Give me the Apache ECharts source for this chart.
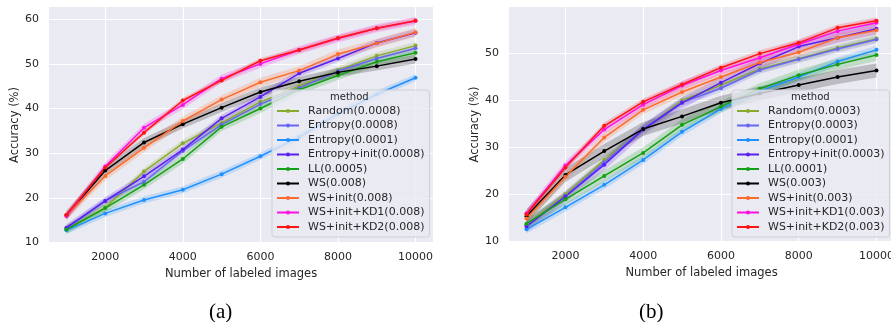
<!DOCTYPE html>
<html>
<head>
<meta charset="utf-8">
<script src="https://cdn.jsdelivr.net/npm/echarts@6/dist/echarts.min.js"></script>
<style>html,body{margin:0;padding:0;background:#fff;}#c{width:891px;height:322px;}</style>
</head>
<body>
<div id="c"></div>
<script>
// ---- data ----
const xValues = [1000, 2000, 3000, 4000, 5000, 6000, 7000, 8000, 9000, 10000];
const xTicks = [2000, 4000, 6000, 8000, 10000];
const yTicksA = [10, 20, 30, 40, 50, 60];
const yTicksB = [10, 20, 30, 40, 50];

const methodsA = ['Random(0.0008)', 'Entropy(0.0008)', 'Entropy(0.0001)', 'Entropy+init(0.0008)', 'LL(0.0005)', 'WS(0.008)', 'WS+init(0.008)', 'WS+init+KD1(0.008)', 'WS+init+KD2(0.008)'];
const methodsB = ['Random(0.0003)', 'Entropy(0.0003)', 'Entropy(0.0001)', 'Entropy+init(0.0003)', 'LL(0.0001)', 'WS(0.003)', 'WS+init(0.003)', 'WS+init+KD1(0.003)', 'WS+init+KD2(0.003)'];
const colors = ['#8aaa2e', '#6767f0', '#1e90ff', '#5a1ef0', '#14a014', '#000000', '#ff6a2a', '#ff10e0', '#ff1414'];

// chart (a)
const randomA      = [13.0, 17.8, 25.9, 32.2, 36.8, 41.5, 45.0, 48.6, 51.8, 54.1];
const entropyA     = [13.1, 19.3, 23.6, 30.5, 36.4, 41.0, 44.6, 48.4, 51.2, 53.5];
const entropyLowA  = [12.7, 16.5, 19.5, 21.8, 25.3, 29.3, 33.6, 38.8, 43.2, 46.9];
const entropyInitA = [13.3, 19.3, 24.8, 30.8, 37.8, 42.6, 47.9, 51.2, 54.7, 57.0];
const llA          = [12.9, 17.7, 22.9, 28.7, 35.9, 40.0, 44.2, 47.4, 50.5, 52.5];
const wsA          = [16.1, 26.1, 32.4, 36.5, 40.2, 43.7, 46.1, 48.1, 49.5, 51.1];
const wsInitA      = [16.0, 24.9, 31.2, 37.2, 42.0, 45.9, 48.5, 52.2, 54.6, 57.1];
const kd1A         = [15.9, 27.0, 35.7, 40.8, 46.7, 50.0, 53.1, 55.7, 58.0, 59.6];
const kd2A         = [16.2, 26.8, 34.6, 41.8, 46.3, 50.7, 53.1, 55.8, 58.0, 59.7];
const spreadA      = [0.8, 0.7, 0.8, 0.8, 1.0, 1.0, 1.0, 0.9, 0.6];

// chart (b)
const randomB      = [13.5, 20.0, 27.3, 33.9, 40.0, 43.3, 46.7, 48.9, 51.2, 53.2];
const entropyB     = [13.3, 19.6, 26.8, 34.0, 39.6, 42.6, 46.5, 48.8, 51.0, 53.0];
const entropyLowB  = [12.5, 17.2, 22.0, 27.3, 33.3, 38.2, 42.0, 45.0, 48.3, 50.8];
const entropyInitB = [13.1, 19.5, 26.3, 33.8, 39.5, 43.8, 47.9, 51.5, 53.4, 55.3];
const llB          = [13.7, 18.9, 23.9, 28.8, 34.8, 38.7, 42.5, 45.4, 47.7, 49.7];
const wsB          = [15.3, 24.1, 29.2, 33.9, 36.6, 39.5, 41.5, 43.3, 45.0, 46.4];
const wsInitB      = [14.8, 23.7, 32.1, 38.0, 41.8, 45.0, 48.1, 50.3, 53.4, 55.0];
const kd1B         = [15.9, 26.1, 33.8, 39.1, 43.2, 46.4, 49.1, 52.0, 54.8, 56.6];
const kd2B         = [15.7, 25.7, 34.6, 39.7, 43.4, 47.0, 50.0, 52.3, 55.5, 57.0];
const spreadB      = [0.8, 0.8, 0.9, 1.2, 1.2, 1.5, 0.9, 0.9, 0.7];

const valuesA = [randomA, entropyA, entropyLowA, entropyInitA, llA, wsA, wsInitA, kd1A, kd2A];
const valuesB = [randomB, entropyB, entropyLowB, entropyInitB, llB, wsB, wsInitB, kd1B, kd2B];

// ---- build ----
const FONT = 'DejaVu Sans';
const TXT = '#262626';
const series = [];
function build(gi, names, vals, spread) {
  names.forEach((n, i) => {
    const band = xValues.map((x, j) => [x, vals[i][j] - spread[i], vals[i][j] + spread[i]]);
    series.push({
      type: 'custom', name: 'band' + gi + '_' + i, xAxisIndex: gi, yAxisIndex: gi,
      data: band, encode: { x: 0, y: [1, 2] }, silent: true, z: 1, animation: false,
      renderItem: function (params, api) {
        if (params.dataIndex !== 0) return null;
        const up = band.map(p => api.coord([p[0], p[2]]));
        const lo = band.map(p => api.coord([p[0], p[1]])).reverse();
        return { type: 'polygon', shape: { points: up.concat(lo) }, style: { fill: colors[i], opacity: 0.2 } };
      }
    });
  });
  names.forEach((n, i) => {
    series.push({
      type: 'line', name: n, xAxisIndex: gi, yAxisIndex: gi,
      data: xValues.map((x, j) => [x, vals[i][j]]),
      symbol: 'circle', symbolSize: 4, showSymbol: true,
      lineStyle: { width: 1.5, color: colors[i] }, itemStyle: { color: colors[i] },
      z: 2, animation: false
    });
  });
}
build(0, methodsA, valuesA, spreadA);
build(1, methodsB, valuesB, spreadB);

function xAxis(gi) {
  return {
    type: 'value', gridIndex: gi, min: 550, max: 10450,
    axisLine: { show: false }, axisTick: { show: false, customValues: xTicks },
    axisLabel: { customValues: xTicks, formatter: v => String(v), color: TXT, fontFamily: FONT, fontSize: 11, margin: 9 },
    splitLine: { show: true, lineStyle: { color: '#ffffff', width: 1.2 } },
    name: 'Number of labeled images', nameLocation: 'middle', nameGap: 19,
    nameTextStyle: { color: TXT, fontFamily: FONT, fontSize: 11.5 }
  };
}
function yAxis(gi, min, max, ticks) {
  return {
    type: 'value', gridIndex: gi, min: min, max: max,
    axisLine: { show: false }, axisTick: { show: false, customValues: ticks },
    axisLabel: { customValues: ticks, formatter: v => String(v), color: TXT, fontFamily: FONT, fontSize: 11, margin: 10 },
    splitLine: { show: true, lineStyle: { color: '#ffffff', width: 1.2 } },
    name: 'Accuracy (%)', nameLocation: 'middle', nameGap: 26,
    nameTextStyle: { color: TXT, fontFamily: FONT, fontSize: 11.5 }
  };
}
function legend(names, left) {
  return {
    data: names, orient: 'vertical', left: left, top: 90,
    padding: [15, 5, 4, 4], itemWidth: 22, itemHeight: 5, itemGap: 2.5,
    backgroundColor: 'rgba(234,234,242,0.8)', borderColor: '#cfcfd6', borderWidth: 1, borderRadius: 3,
    selectedMode: false,
    textStyle: { color: TXT, fontFamily: FONT, fontSize: 11, lineHeight: 12, padding: [0, 0, 0, 4] }
  };
}

const chart = echarts.init(document.getElementById('c'), null, { renderer: 'canvas' });
chart.setOption({
  backgroundColor: '#ffffff',
  animation: false,
  grid: [
    { left: 49, top: 7, width: 384, height: 236, show: true, backgroundColor: '#EAEAF2', borderWidth: 0, containLabel: false, outerBoundsMode: 'none' },
    { left: 509, top: 7, width: 385, height: 235, show: true, backgroundColor: '#EAEAF2', borderWidth: 0, containLabel: false, outerBoundsMode: 'none' }
  ],
  xAxis: [xAxis(0), xAxis(1)],
  yAxis: [yAxis(0, 9.87, 62.75, yTicksA), yAxis(1, 9.79, 59.95, yTicksB)],
  legend: [legend(methodsA, 272), legend(methodsB, 732)],
  series: series,
  graphic: [
    { type: 'text', left: 330, top: 92, z: 100, style: { text: 'method', fill: TXT, font: '10px "DejaVu Sans"' } },
    { type: 'text', left: 791, top: 92, z: 100, style: { text: 'method', fill: TXT, font: '10px "DejaVu Sans"' } },
    { type: 'text', left: 209, top: 302, style: { text: '(a)', fill: '#000', font: '21px "Liberation Serif"' } },
    { type: 'text', left: 639, top: 302, style: { text: '(b)', fill: '#000', font: '21px "Liberation Serif"' } }
  ]
});
</script>
</body>
</html>
